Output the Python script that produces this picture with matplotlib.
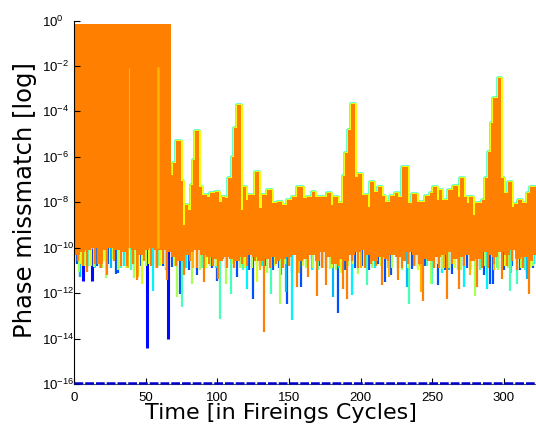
import numpy as np
import matplotlib
matplotlib.use("Agg")
import matplotlib.pyplot as plt

plt.rcParams['font.family'] = ['DejaVu Sans']
plt.rcParams['mathtext.fontset'] = 'custom'
plt.rcParams['mathtext.rm'] = 'Liberation Sans'
plt.rcParams['mathtext.it'] = 'Liberation Sans'
plt.rcParams['mathtext.default'] = 'regular'

# ---------------- data (log10 of phase mismatch) ----------------
# upper envelope of the bundle of series (step values, start times)
top_t = [0, 67.7, 68.9, 71.2, 74.4, 76.3, 77.2, 79.6, 81.6, 83.3,
         84.7, 87.2, 89.1, 92.6, 94.9, 98.4, 101.4, 103.0, 105.4, 107.7,
         110.0, 111.7, 113.5, 116.3, 117.7, 120.0, 121.7, 126.3, 128.9, 131.0,
         134.5, 137.9, 141.4, 144.9, 148.4, 151.9, 155.4, 159.6, 162.4, 165.9,
         168.2, 171.7, 176.3, 179.1, 181.0, 184.5, 187.5, 189.1, 191.0, 193.3,
         196.1, 198.0, 200.7, 205.4, 206.5, 209.6, 212.4, 215.2, 217.0, 220.5,
         224.0, 226.3, 228.7, 232.9, 235.6, 239.1, 244.9, 248.4, 250.8, 253.1,
         254.9, 257.0, 261.3, 264.7, 268.2, 269.4, 272.2, 274.0, 275.7, 278.2,
         279.8, 285.0, 286.8, 288.7, 290.8, 292.4, 295.7, 298.0, 299.9, 302.7,
         305.5, 307.3, 310.1, 312.5, 316.0, 318.3, 322.5]
top_v = [-0.15, -6.81, -6.29, -5.29, -7.06, -9.0, -8.10, -8.32, -7.25, -6.15,
         -4.85, -7.32, -7.70, -7.76, -7.61, -7.54, -7.98, -7.79, -7.83, -6.95,
         -6.0, -4.75, -3.72, -8.35, -7.32, -7.91, -7.69, -6.66, -8.27, -7.69,
         -7.47, -8.05, -7.98, -8.13, -7.91, -7.76, -7.32, -7.83, -7.76, -7.54,
         -7.76, -7.76, -7.61, -8.13, -7.76, -8.05, -6.84, -5.85, -4.82, -3.69,
         -6.88, -6.76, -7.69, -8.2, -7.10, -7.54, -7.32, -7.73, -7.98, -7.73,
         -7.58, -7.76, -6.47, -8.02, -7.64, -7.98, -7.73, -7.61, -7.32, -7.91,
         -7.47, -7.91, -7.47, -7.29, -7.76, -6.95, -7.79, -8.05, -7.76, -8.57,
         -8.02, -7.88, -6.95, -5.78, -4.53, -3.43, -2.55, -6.95, -7.61, -7.10,
         -8.2, -8.08, -7.91, -8.05, -7.61, -7.32, -7.32]

# lower edge of the orange series body (every 4 cycles)
bot_t = list(range(0, 325, 4))
bot_v = [-10.3, -10.2, -10.1, -10.0, -10.7, -10.1, -10.0, -10.1, -10.2, -10.0,
         -10.1, -10.3, -10.1, -10.0, -10.1, -10.1, -10.2, -10.4, -10.6, -10.3,
         -10.2, -10.1, -10.3, -10.4, -10.5, -10.6, -10.4, -10.5, -10.6, -10.4,
         -10.3, -10.4, -10.6, -10.5, -10.4, -10.6, -10.5, -10.4, -10.3, -10.6,
         -10.5, -10.3, -10.6, -10.2, -10.4, -10.7, -10.5, -10.6, -10.3, -10.2,
         -10.1, -10.3, -10.6, -10.4, -10.5, -10.3, -10.4, -10.6, -10.2, -10.3,
         -10.7, -10.5, -10.6, -10.4, -10.3, -10.2, -10.5, -10.4, -10.3, -10.6,
         -10.5, -10.2, -10.3, -10.4, -10.2, -10.3, -10.1, -10.5, -10.4, -10.6,
         -10.3, -10.3]

# downward excursions of the individual series (time, log10 minimum)
dblue_t = [51.2, 65.8, 6.5, 12.8]
dblue_v = [-14.41, -14.03, -11.48, -11.48]
blue_t = [4.5, 19, 29.1, 30.5, 36.0, 62, 68.6, 74.0, 86.0, 96, 100.0, 114.0, 118,
          125.1, 133, 139, 148.8, 158.1, 165.9, 184.0, 196, 206, 217.0, 226, 235.6,
          245, 254.2, 263.5, 270, 290.3, 292.6, 300, 316, 320,
          2, 9, 16, 24, 42, 47, 57, 80, 91, 106, 122, 128, 143, 152, 171, 176, 189,
          201, 212, 221, 240, 250, 259, 274, 281, 286, 296, 306, 311]
blue_v = [-11.3, -10.9, -11.14, -11.1, -10.7, -10.8, -10.85, -12.02, -11.21, -10.9,
          -11.48, -11.29, -10.9, -12.27, -10.8, -11.0, -12.5, -11.73, -10.48, -12.86,
          -10.9, -11.0, -11.51, -10.9, -10.92, -10.8, -11.65, -11.14, -10.8, -11.6,
          -11.62, -11.0, -11.1, -10.9,
          -10.7, -10.9, -10.8, -10.7, -10.9, -10.8, -10.7, -11.0, -10.8, -10.9, -11.0,
          -10.8, -10.9, -11.1, -10.8, -10.9, -11.0, -10.8, -10.7, -11.2, -10.9, -10.8,
          -11.0, -10.9, -10.8, -11.2, -10.9, -10.8, -11.0]
sky_t = [4.2, 26, 97, 144.2, 147.7, 181.0, 232.1, 262, 315.9]
sky_v = [-11.3, -10.9, -10.8, -11.21, -11.95, -12.17, -11.73, -11.0, -11.36]
cyan_t = [55.3, 78, 120.9, 152.3, 193.8, 210, 272.4, 287.9, 305, 321,
          15, 35, 64, 99, 131, 166, 185, 241, 257, 299]
cyan_v = [-11.9, -10.9, -11.8, -13.2, -12.09, -10.9, -11.73, -11.8, -11.1, -10.7,
          -10.9, -10.8, -11.0, -10.9, -10.8, -11.0, -10.9, -10.8, -11.1, -10.9]
aqua_t = [10, 33, 75.6, 101.9, 109.3, 137.2, 170, 204.2, 234.0, 249.6, 283, 304.2, 308.9,
          18, 40, 59, 89, 118, 157, 188, 219, 246, 268, 295, 315]
aqua_v = [-10.8, -10.9, -12.61, -13.12, -12.02, -12.02, -11.0, -11.65, -12.49, -11.62,
          -11.0, -11.92, -11.62,
          -10.9, -11.0, -10.8, -10.9, -11.0, -10.9, -11.1, -10.9, -10.8, -11.0, -10.9, -11.0]
lgreen_t = [3.5, 14.0, 22.6, 41.9, 57, 72.1, 82.6, 105.8, 116, 143.5, 162, 178.6,
            198.0, 222, 249.1, 256.5, 279.8, 296, 312,
            7, 19.5, 31, 50, 64, 88, 95, 124, 135, 150, 167, 183, 191, 208, 229, 238,
            262, 270, 287, 303, 320]
lgreen_v = [-11.07, -10.85, -11.33, -11.33, -10.9, -12.17, -11.62, -11.58, -10.9, -12.5,
            -10.9, -10.92, -11.14, -10.9, -11.62, -10.92, -12.14, -11.0, -10.9,
            -10.8, -10.9, -11.0, -10.8, -10.9, -11.0, -10.8, -10.9, -11.1, -10.8, -10.9,
            -11.0, -10.8, -10.9, -11.0, -10.8, -10.9, -11.0, -10.8, -10.9, -10.8]
ygreen_t = [1, 17, 27.2, 47.7, 60, 92, 111, 127.9, 140, 174, 186, 214, 240, 266, 277, 301, 318,
            5, 12, 21, 36, 52, 70, 86, 99, 119, 147, 160, 180, 195, 226, 233, 254, 285, 309]
ygreen_v = [-10.6, -10.7, -10.48, -11.62, -10.8, -10.9, -10.7, -11.51, -10.8, -10.9,
            -11.1, -10.8, -11.0, -10.9, -11.0, -10.8, -10.9,
            -10.7, -10.8, -10.6, -10.9, -10.7, -10.8, -10.7, -10.8, -10.9, -10.7, -10.8,
            -10.9, -10.7, -10.8, -10.9, -10.7, -10.8, -10.7]
lorange_t = [38, 45, 83, 130, 157, 200, 220, 242.1, 258, 276, 293]
lorange_v = [-10.9, -11.3, -10.9, -11.0, -11.1, -10.9, -11.3, -11.95, -10.9, -11.2, -11.0]
orange_t = [9.3, 23.3, 33, 44.2, 54, 65.1, 76.7, 90.7, 100.7, 107, 132.6, 146, 155.8,
            163.3, 169.8, 176.1, 187.9, 190.7, 203, 215.2, 225.9, 243.8, 251, 260.0,
            268.6, 281.0, 289, 298.4, 309, 317.5,
            2.5, 6, 15, 19, 28, 37, 41, 49, 58, 62, 71, 81, 86, 94, 97, 104, 112, 117,
            121, 126, 137, 141, 150, 159, 173, 180, 184, 194, 198, 207, 211, 219, 229,
            233, 237, 247, 255, 264, 272, 277, 285, 293, 302, 306, 313]
orange_v = [-11.07, -11.21, -10.8, -11.43, -10.8, -11.43, -11.21, -11.51, -11.36, -10.9,
            -13.71, -10.9, -11.73, -11.29, -12.14, -11.65, -11.83, -12.28, -10.9, -11.65,
            -11.43, -12.34, -10.9, -12.24, -11.8, -11.73, -10.9, -11.36, -11.0, -12.06,
            -10.6, -10.8, -10.7, -10.9, -10.6, -10.8, -10.7, -10.6, -10.9, -10.7,
            -10.8, -10.6, -10.9, -10.7, -10.8, -10.5, -10.9, -10.7, -10.8, -10.6,
            -10.9, -10.7, -10.8, -10.6, -10.9, -10.7, -10.8, -10.6, -10.9, -10.7,
            -10.8, -10.6, -10.9, -10.7, -10.8, -10.6, -10.9, -10.7, -10.8, -10.6,
            -10.9, -10.7, -10.8, -10.6, -10.9]

# lighter streaks inside the initial saturated block
streak_t = [38.6, 58.6]
streak_top = [-2.1, -2.05]

# series stuck at machine precision
floor_t = [0, 322.5]
floor_v = [1.15e-16, 1.15e-16]

x_ticks = [0, 50, 100, 150, 200, 250, 300]
y_exps = [0, -2, -4, -6, -8, -10, -12, -14, -16]

# ---------------- colours ----------------
C_DBLUE = '#0008ff'
C_BLUE = '#0050ff'
C_SKY = '#00b8ff'
C_CYAN = '#00f4ff'
C_AQUA = '#48ffb8'
C_LGREEN = '#a8ff58'
C_YGREEN = '#d8ff28'
C_YELLOW = '#ffff00'
C_LORANGE = '#ffb400'
C_ORANGE = '#ff8000'
C_FLOOR = '#0000cc'

fig = plt.figure(figsize=(5.36, 4.25), dpi=100)
ax = fig.add_axes([74 / 536, 41 / 425, 462 / 536, 363.5 / 425])
ax.set_yscale('log')
ax.set_axisbelow(False)

p = lambda v: np.power(10.0, np.asarray(v, dtype=float))
JOIN = -9.6

def spikes(t, v, c, lw=1.5, z=1.0):
    ax.vlines(t, p(v), p(-10.0), colors=c, linewidth=lw, capstyle='butt', zorder=z)

spikes(blue_t, blue_v, C_BLUE, 1.6, 1.00)
spikes(dblue_t, dblue_v, C_DBLUE, 2.2, 1.01)
spikes(sky_t, sky_v, C_SKY, 1.6, 1.02)
spikes(cyan_t, cyan_v, C_CYAN, 1.6, 1.03)
spikes(aqua_t, aqua_v, C_AQUA, 1.6, 1.04)
spikes(lgreen_t, lgreen_v, C_LGREEN, 1.6, 1.05)
spikes(ygreen_t, ygreen_v, C_YGREEN, 1.6, 1.06)
spikes(lorange_t, lorange_v, C_LORANGE, 1.6, 1.07)

# coloured rims on the upper envelope (mostly hidden under the orange body)
ax.step(top_t[1:], p(top_v[1:]), where='post', color=C_AQUA, lw=2.6, zorder=1.5)
ax.step(top_t[1:], p(top_v[1:]), where='post', color=C_YELLOW, lw=2.0, zorder=1.6)

# orange body
ax.fill_between(top_t, p(JOIN), p(top_v), step='post', color=C_ORANGE, lw=0, zorder=2)
ax.fill_between(bot_t, p(bot_v), p(JOIN), step='post', color=C_ORANGE, lw=0, zorder=2)
spikes(orange_t, orange_v, C_ORANGE, 1.6, 2.1)
ax.vlines(streak_t, p(-10.0), p(streak_top), colors=C_LORANGE, linewidth=[0.8, 1.8], zorder=2.2)

ax.plot(floor_t, floor_v, color=C_FLOOR, lw=1.8, dashes=(3.5, 0.8), clip_on=False, zorder=5)

# ---------------- axes styling ----------------
ax.set_xlim(0, 322.4)
ax.set_ylim(1e-16, 1)
ax.set_xticks(x_ticks)
ax.set_xticklabels([str(v) for v in x_ticks])
ax.set_yticks([10.0 ** e for e in y_exps])
ax.set_yticklabels([r'$10^{%d}$' % e for e in y_exps])
ax.yaxis.set_minor_locator(matplotlib.ticker.NullLocator())
ax.tick_params(axis='both', direction='in', length=4, width=0.8, labelsize=9.5, colors='black')
ax.tick_params(axis='y', pad=22.7)
ax.tick_params(axis='x', pad=5.5)
for lab in ax.get_xticklabels() + ax.get_yticklabels():
    lab.set_fontfamily('Liberation Sans')
for lab in ax.get_yticklabels():
    lab.set_horizontalalignment('left')
for s in ['top', 'right']:
    ax.spines[s].set_visible(False)
ax.spines['left'].set_linewidth(0.8)
ax.spines['bottom'].set_linewidth(0.8)
ax.spines['bottom'].set_color('#555555')

ax.set_xlabel('Time [in Fireings Cycles]', fontsize=16)
ax.set_ylabel('Phase missmatch [log]', fontsize=17.5)
ax.xaxis.set_label_coords(0.448, -0.051)
ax.yaxis.set_label_coords(-0.081, 0.506)

fig.savefig('out.png', dpi=100)
